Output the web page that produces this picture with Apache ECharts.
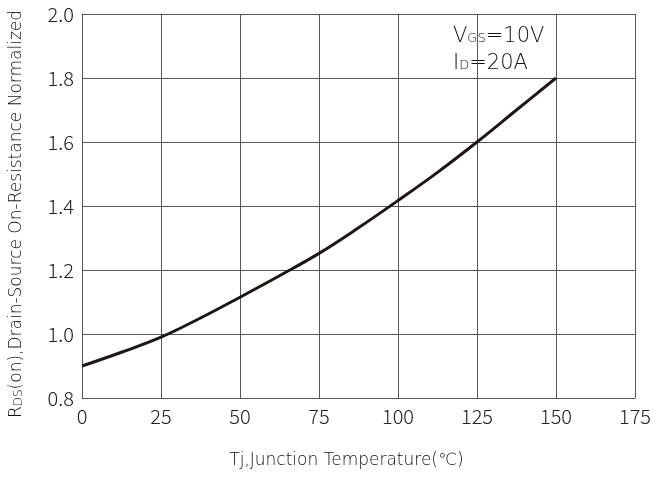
<!DOCTYPE html>
<html>
<head>
<meta charset="utf-8">
<script src="https://cdn.jsdelivr.net/npm/echarts@6/dist/echarts.min.js"></script>
<style>html,body{margin:0;padding:0;background:#fff;}#c{width:669px;height:477px;}</style>
</head>
<body>
<div id="c"></div>
<script>
var temperatures = [0, 12.5, 25, 37.5, 50, 62.5, 75, 87.5, 100, 112.5, 125, 137.5, 150];
var rdsNormalized = [0.90, 0.943, 0.99, 1.05, 1.115, 1.182, 1.252, 1.332, 1.417, 1.505, 1.60, 1.70, 1.80];
var xTicks = [0, 25, 50, 75, 100, 125, 150, 175];
var yTicks = [0.8, 1.0, 1.2, 1.4, 1.6, 1.8, 2.0];

var FONT = '"Noto Sans CJK SC", "Noto Sans", sans-serif';
var WIDE = '"DejaVu Sans", sans-serif';
var TXT = '#111';
var chart = echarts.init(document.getElementById('c'), null, {renderer: 'canvas'});
chart.setOption({
  animation: false,
  backgroundColor: '#fff',
  grid: {left: 81, right: 34, top: 14, bottom: 79, containLabel: false},
  xAxis: {
    type: 'value', min: xTicks[0], max: xTicks[xTicks.length - 1], interval: 25,
    axisLine: {show: true, lineStyle: {color: '#555', width: 1}},
    axisTick: {show: false},
    splitLine: {show: true, lineStyle: {color: '#555', width: 1}},
    axisLabel: {color: '#222', fontSize: 20, fontWeight: 300, fontFamily: FONT, margin: 8},
    name: 'Tj,Junction Temperature(℃)',
    nameLocation: 'middle', nameGap: 54,
    nameTextStyle: {color: TXT, fontSize: 17, fontWeight: 200, fontFamily: WIDE, padding: [0, 24, 0, 0]}
  },
  yAxis: {
    type: 'value', min: yTicks[0], max: yTicks[yTicks.length - 1], interval: 0.2,
    axisLine: {show: true, lineStyle: {color: '#555', width: 1}},
    axisTick: {show: false},
    splitLine: {show: true, lineStyle: {color: '#555', width: 1}},
    axisLabel: {color: '#222', fontSize: 20, fontWeight: 300, fontFamily: FONT, margin: 8,
      formatter: function (v) { return v.toFixed(1); }},
    name: '{n|R}{s|DS}{n|(on),Drain-Source On-Resistance Normalized}',
    nameLocation: 'middle', nameGap: 57,
    nameTextStyle: {color: TXT, fontFamily: WIDE, padding: [0, 16, 0, 0],
      rich: {n: {fontSize: 17, fontWeight: 200, fontFamily: WIDE, color: TXT}, s: {fontSize: 12, fontWeight: 200, fontFamily: WIDE, color: TXT, padding: [4, 0, 0, 0]}}}
  },
  graphic: [{
    type: 'text', left: 453, top: 26,
    style: {
      text: '{n|V}{s|GS}{n|=10V}\n{n|I}{s|D}{n|=20A}',
      rich: {
        n: {fontSize: 21, fontWeight: 200, fontFamily: WIDE, fill: TXT, lineHeight: 27},
        s: {fontSize: 13, fontWeight: 200, fontFamily: WIDE, fill: TXT, lineHeight: 27, padding: [5, 0, 0, 0]}
      }
    }
  }],
  series: [{
    type: 'line', smooth: 0.4, showSymbol: false,
    data: temperatures.map(function (t, i) { return [t, rdsNormalized[i]]; }),
    lineStyle: {color: '#1f1614', width: 3}
  }]
});
</script>
</body>
</html>
